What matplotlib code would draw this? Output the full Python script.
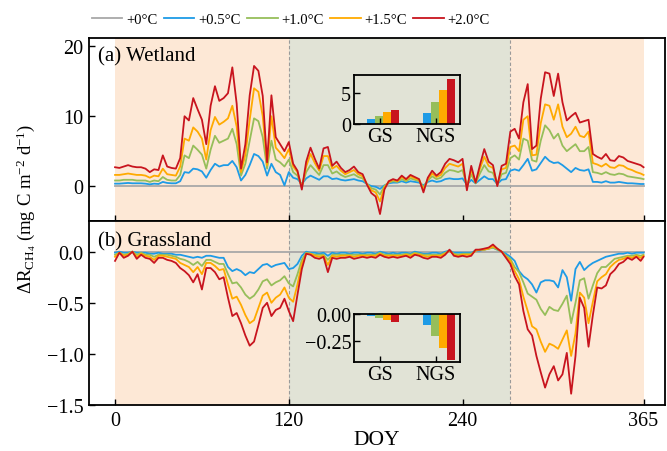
import numpy as np
import matplotlib
matplotlib.use('Agg')
import matplotlib.pyplot as plt

plt.rcParams['font.family'] = ['Liberation Serif', 'DejaVu Serif']
plt.rcParams['mathtext.fontset'] = 'custom'
plt.rcParams['mathtext.rm'] = 'Liberation Serif'
plt.rcParams['mathtext.it'] = 'Liberation Serif:italic'
plt.rcParams['mathtext.bf'] = 'Liberation Serif:bold'
plt.rcParams['axes.unicode_minus'] = True

# ---------------- data ----------------
doy = list(range(0, 364, 3)) + [365]

scenarios = ['+0\u00b0C', '+0.5\u00b0C', '+1.0\u00b0C', '+1.5\u00b0C', '+2.0\u00b0C']
colors = ['#A8A8A8', '#1E9BE6', '#96BE5A', '#FFAA00', '#C8141E']

wet_00 = [0.0] * 123
wet_05 = [0.35, 0.35, 0.4, 0.45, 0.4, 0.4, 0.4, 0.35, 0.25, 0.35,
          0.3, 0.6, 0.45, 0.4, 0.4, 0.7, 2.0, 1.9, 2.5, 2.4,
          2.1, 1.2, 2.3, 3.2, 2.8, 3.0, 3.0, 3.6, 2.7, 0.8,
          1.6, 3.0, 4.6, 4.3, 3.5, 1.5, 3.2, 2.0, 1.6, 0.1,
          2.0, 1.2, 1.0, 0.3, 1.1, 1.5, 1.2, 0.9, 1.4, 1.4,
          1.0, 1.1, 0.9, 0.8, 0.9, 1.0, 0.8, 0.7, 0.3, 0.0,
          -0.1, -0.4, 0.1, 0.4, 0.5, 0.5, 0.7, 0.5, 0.7, 0.6,
          0.5, 0.1, 0.6, 0.8, 0.6, 0.7, 1.0, 1.1, 1.0, 1.0,
          1.1, 0.2, 0.9, 0.4, 0.9, 1.4, 1.0, 1.0, 0.3, 0.9,
          1.0, 2.2, 2.4, 2.2, 3.0, 3.9, 2.2, 2.4, 3.3, 4.2,
          3.6, 3.3, 3.4, 3.0, 2.5, 2.0, 2.6, 2.3, 2.2, 2.4,
          0.6, 0.6, 0.5, 0.7, 0.5, 0.5, 0.6, 0.5, 0.4, 0.4,
          0.35, 0.3, 0.3]
wet_10 = [0.8, 0.8, 0.9, 0.9, 0.9, 0.8, 0.8, 0.8, 0.6, 0.8,
          0.7, 1.3, 0.9, 0.8, 0.8, 1.6, 4.4, 4.0, 5.8, 5.2,
          4.5, 2.5, 5.2, 7.2, 6.2, 6.5, 6.8, 8.2, 6.0, 1.5,
          3.2, 6.5, 9.7, 9.3, 7.0, 2.5, 6.5, 3.8, 3.4, 2.8,
          3.8, 2.0, 1.5, 0.0, 2.0, 3.0, 2.3, 1.6, 3.0, 3.0,
          1.8, 2.1, 1.6, 1.3, 1.5, 1.7, 1.3, 1.1, 0.3, -0.3,
          -0.5, -1.2, 0.0, 0.5, 0.7, 0.6, 1.0, 0.7, 1.1, 0.9,
          0.7, -0.2, 0.8, 1.4, 1.0, 1.2, 1.9, 2.3, 2.2, 2.0,
          2.3, 0.0, 1.7, 0.4, 1.8, 3.0, 2.1, 1.9, 0.2, 1.7,
          1.9, 4.0, 4.4, 3.8, 6.8, 6.5, 3.7, 3.5, 6.5, 8.7,
          8.0, 6.8, 7.5, 5.8, 5.0, 5.5, 6.0, 5.0, 5.0, 5.6,
          2.0, 1.9, 1.7, 2.0, 1.7, 1.6, 1.8, 1.7, 1.4, 1.3,
          1.2, 1.1, 1.0]
wet_15 = [1.6, 1.6, 1.7, 1.8, 1.7, 1.6, 1.6, 1.5, 1.2, 1.5,
          1.4, 2.5, 1.7, 1.6, 1.5, 2.8, 6.8, 6.5, 8.4, 7.8,
          6.8, 3.8, 8.0, 9.9, 8.8, 9.2, 9.7, 11.5, 8.5, 2.0,
          4.5, 9.5, 14.0, 13.5, 10.0, 3.0, 10.0, 5.5, 4.8, 4.0,
          5.3, 2.8, 2.0, -0.2, 2.8, 4.6, 3.3, 2.2, 4.3, 4.3,
          2.5, 2.9, 2.2, 1.7, 2.0, 2.3, 1.7, 1.4, 0.3, -0.6,
          -0.9, -2.2, -0.2, 0.6, 0.9, 0.7, 1.3, 0.9, 1.4, 1.1,
          0.9, -0.5, 1.0, 1.8, 1.3, 1.6, 2.6, 3.2, 3.0, 2.8,
          3.2, -0.3, 2.4, 0.5, 2.5, 4.2, 2.9, 2.6, 0.2, 2.4,
          2.6, 5.6, 5.8, 5.0, 9.5, 10.0, 4.4, 4.5, 9.0, 11.7,
          11.5, 9.5, 11.7, 8.5, 7.0, 7.5, 8.5, 7.2, 7.0, 7.8,
          3.3, 3.1, 2.8, 3.2, 2.7, 2.6, 3.0, 2.9, 2.5, 2.3,
          2.0, 1.8, 1.6]
wet_20 = [2.7, 2.6, 2.8, 3.0, 2.8, 2.7, 2.7, 2.5, 2.0, 2.4,
          2.3, 4.4, 2.8, 2.6, 2.5, 4.0, 10.0, 9.4, 12.6, 11.0,
          9.5, 6.0, 11.5, 14.3, 12.2, 12.6, 13.3, 17.0, 11.8, 2.5,
          6.0, 13.0, 17.2, 16.5, 12.9, 3.4, 13.0, 7.0, 6.0, 5.0,
          6.3, 3.2, 2.2, -0.5, 3.5, 5.5, 3.9, 2.5, 5.4, 5.6,
          2.9, 3.5, 2.6, 2.0, 2.3, 2.8, 2.0, 1.7, 0.2, -1.0,
          -1.5, -4.0, -0.5, 0.7, 1.0, 0.8, 1.5, 1.0, 1.6, 1.3,
          1.0, -0.9, 1.2, 2.2, 1.5, 2.0, 3.2, 3.9, 3.7, 3.4,
          3.9, -0.6, 2.9, 0.5, 3.0, 5.3, 3.5, 3.0, 0.0, 2.9,
          3.2, 7.8, 8.2, 6.8, 12.0, 14.6, 5.3, 5.8, 12.5, 16.3,
          16.1, 12.9, 16.1, 12.0, 9.4, 10.0, 10.5, 9.1, 9.3, 9.5,
          4.6, 4.2, 3.9, 4.6, 3.7, 3.6, 4.3, 4.1, 3.6, 3.4,
          3.2, 3.0, 2.7]

gra_00 = [0.0] * 123
gra_05 = [-0.01, 0.0, -0.01, -0.01, 0.0, -0.01, -0.01, -0.01, -0.02, -0.02,
          -0.01, -0.02, -0.02, -0.02, -0.03, -0.03, -0.04, -0.05, -0.06, -0.05,
          -0.06, -0.04, -0.04, -0.05, -0.06, -0.06, -0.15, -0.19, -0.17, -0.19,
          -0.23, -0.20, -0.21, -0.17, -0.13, -0.12, -0.15, -0.13, -0.12, -0.11,
          -0.17, -0.16, -0.12, -0.04, 0.0, -0.01, -0.01, -0.02, -0.01, -0.04,
          -0.01, -0.02, -0.01, -0.01, -0.02, -0.01, -0.01, -0.02, -0.01, -0.01,
          -0.02, 0.0, -0.01, -0.02, -0.01, -0.02, -0.01, -0.01, -0.02, 0.0,
          -0.01, -0.02, -0.02, -0.01, -0.01, -0.02, 0.0, 0.01, -0.01, -0.01,
          -0.01, -0.01, -0.01, 0.01, 0.01, 0.02, 0.03, 0.04, 0.02, 0.0,
          -0.02, -0.05, -0.09, -0.19, -0.24, -0.27, -0.32, -0.40, -0.30, -0.28,
          -0.28, -0.29, -0.35, -0.18, -0.25, -0.48, -0.17, -0.10, -0.18, -0.14,
          -0.11, -0.09, -0.07, -0.05, -0.04, -0.03, -0.02, -0.02, -0.01, -0.02,
          -0.01, -0.01, -0.01]
gra_10 = [-0.03, -0.01, -0.03, -0.02, 0.0, -0.03, -0.01, -0.03, -0.03, -0.05,
          -0.03, -0.03, -0.03, -0.04, -0.05, -0.07, -0.08, -0.10, -0.13, -0.10,
          -0.14, -0.08, -0.08, -0.10, -0.12, -0.12, -0.22, -0.31, -0.30, -0.35,
          -0.42, -0.46, -0.43, -0.37, -0.29, -0.27, -0.33, -0.30, -0.28, -0.24,
          -0.31, -0.34, -0.22, -0.08, -0.01, -0.02, -0.03, -0.03, -0.03, -0.08,
          -0.03, -0.03, -0.03, -0.03, -0.03, -0.03, -0.03, -0.03, -0.03, -0.03,
          -0.03, -0.01, -0.03, -0.03, -0.03, -0.03, -0.03, -0.02, -0.03, -0.01,
          -0.02, -0.03, -0.03, -0.03, -0.03, -0.03, -0.01, 0.01, -0.02, -0.03,
          -0.02, -0.02, -0.02, 0.01, 0.02, 0.02, 0.03, 0.04, 0.02, 0.0,
          -0.04, -0.07, -0.15, -0.20, -0.30, -0.41, -0.44, -0.47, -0.56, -0.62,
          -0.54, -0.57, -0.58, -0.51, -0.43, -0.70, -0.50, -0.28, -0.26, -0.46,
          -0.33, -0.21, -0.15, -0.15, -0.11, -0.07, -0.06, -0.05, -0.04, -0.04,
          -0.03, -0.04, -0.03]
gra_15 = [-0.05, -0.01, -0.04, -0.03, 0.0, -0.05, -0.02, -0.04, -0.05, -0.08,
          -0.04, -0.04, -0.05, -0.06, -0.07, -0.11, -0.13, -0.15, -0.20, -0.15,
          -0.22, -0.11, -0.11, -0.14, -0.18, -0.17, -0.32, -0.46, -0.44, -0.52,
          -0.62, -0.70, -0.67, -0.55, -0.43, -0.40, -0.50, -0.45, -0.42, -0.35,
          -0.45, -0.49, -0.32, -0.12, -0.02, -0.02, -0.04, -0.05, -0.04, -0.13,
          -0.04, -0.05, -0.04, -0.04, -0.04, -0.05, -0.04, -0.04, -0.04, -0.04,
          -0.04, -0.02, -0.04, -0.04, -0.04, -0.04, -0.04, -0.03, -0.04, -0.02,
          -0.03, -0.04, -0.05, -0.04, -0.04, -0.04, -0.02, 0.01, -0.03, -0.04,
          -0.03, -0.03, -0.03, 0.01, 0.02, 0.02, 0.03, 0.05, 0.03, 0.0,
          -0.05, -0.09, -0.19, -0.27, -0.44, -0.58, -0.73, -0.76, -0.88, -0.98,
          -0.90, -0.92, -0.95, -0.86, -0.77, -1.02, -0.80, -0.40, -0.45, -0.70,
          -0.49, -0.29, -0.25, -0.22, -0.15, -0.11, -0.08, -0.07, -0.05, -0.06,
          -0.04, -0.06, -0.04]
gra_20 = [-0.09, -0.01, -0.06, -0.04, 0.0, -0.07, -0.03, -0.06, -0.07, -0.11,
          -0.06, -0.06, -0.08, -0.09, -0.11, -0.16, -0.19, -0.23, -0.30, -0.22,
          -0.37, -0.16, -0.16, -0.20, -0.27, -0.25, -0.45, -0.63, -0.60, -0.70,
          -0.82, -0.92, -0.88, -0.72, -0.55, -0.50, -0.63, -0.57, -0.55, -0.46,
          -0.58, -0.68, -0.42, -0.17, -0.02, -0.03, -0.06, -0.07, -0.05, -0.20,
          -0.06, -0.07, -0.06, -0.06, -0.05, -0.07, -0.06, -0.05, -0.06, -0.05,
          -0.06, -0.03, -0.05, -0.06, -0.05, -0.06, -0.05, -0.04, -0.06, -0.03,
          -0.04, -0.06, -0.07, -0.05, -0.05, -0.06, -0.03, 0.02, -0.04, -0.05,
          -0.04, -0.05, -0.04, 0.02, 0.02, 0.03, 0.04, 0.07, 0.03, 0.0,
          -0.06, -0.12, -0.24, -0.32, -0.58, -0.76, -0.82, -1.02, -1.18, -1.33,
          -1.20, -1.12, -1.26, -1.20, -0.99, -1.39, -1.02, -0.45, -0.55, -0.93,
          -0.62, -0.35, -0.36, -0.33, -0.22, -0.18, -0.12, -0.10, -0.06, -0.08,
          -0.05, -0.09, -0.05]

inset_groups = ['GS', 'NGS']
wet_gs = [0.75, 1.35, 1.9, 2.3]
wet_ngs = [1.75, 3.6, 5.5, 7.4]
gra_gs = [-0.02, -0.04, -0.055, -0.075]
gra_ngs = [-0.10, -0.21, -0.32, -0.43]

xticks = [0, 120, 240, 365]
gs_start, gs_end = 120, 273

# ---------------- figure ----------------
fig = plt.figure(figsize=(6.67, 4.52), dpi=100)
ax1 = fig.add_axes([0.1334, 0.5088, 0.864, 0.4049])
ax2 = fig.add_axes([0.1334, 0.1018, 0.864, 0.4070])

peach = '#FDE8D6'
sage = '#E1E3D6'
fs = 14.5

wet = [wet_00, wet_05, wet_10, wet_15, wet_20]
gra = [gra_00, gra_05, gra_10, gra_15, gra_20]

handles = []
for ax, series in [(ax1, wet), (ax2, gra)]:
    ax.axvspan(0, gs_start, color=peach, lw=0, zorder=0)
    ax.axvspan(gs_start, gs_end, color=sage, lw=0, zorder=0)
    ax.axvspan(gs_end, 365, color=peach, lw=0, zorder=0)
    for xv in (gs_start, gs_end):
        ax.axvline(xv, color='#9A9A9A', lw=0.8, ls=(0, (3, 2)), zorder=1)
    hs = []
    for s, c, lab in zip(series, colors, scenarios):
        h, = ax.plot(doy, s, color=c, lw=1.3, label=lab, zorder=2)
        hs.append(h)
    handles = hs
    ax.set_xlim(-18, 380)
    ax.set_xticks(xticks)
    ax.tick_params(direction='in', length=4, width=1.0, labelsize=fs, pad=4)
    for sp in ax.spines.values():
        sp.set_linewidth(1.3)

ax1.set_ylim(-5, 21.2)
ax1.set_yticks([0, 10, 20])
ax1.tick_params(labelbottom=False)
ax2.set_ylim(-1.5, 0.3)
ax2.set_yticks([0.0, -0.5, -1.0, -1.5])
ax2.set_yticklabels(['0.0', '\u22120.5', '\u22121.0', '\u22121.5'])
ax2.set_xlabel('DOY', fontsize=15.5, labelpad=0)

ax1.text(0.016, 0.90, '(a) Wetland', transform=ax1.transAxes, fontsize=15,
         va='center', ha='left')
ax2.text(0.016, 0.89, '(b) Grassland', transform=ax2.transAxes, fontsize=15,
         va='center', ha='left')

fig.text(0.040, 1 - 209 / 452,
         '\u0394R$_{\\mathrm{CH_4}}$ (mg C m$^{-2}$ d$^{-1}$)',
         rotation=90, va='center', ha='center', fontsize=13.5)

fig.legend(handles, scenarios, loc='center', bbox_to_anchor=(0.436, 0.954),
           ncol=5, frameon=False, fontsize=10.5, handlelength=2.1,
           handletextpad=0.25, columnspacing=0.45, borderaxespad=0)

# ---------------- insets ----------------
w = 0.143
offs = [-1.1, -0.1, 0.9, 1.9]
bar_colors = colors[1:]

def make_inset(rect, gs_vals, ngs_vals, ylim, yticks, yticklabels):
    ia = fig.add_axes(rect, zorder=5)
    ia.set_facecolor('none')
    for k in range(4):
        ia.bar([0 + offs[k] * w, 1 + offs[k] * w], [gs_vals[k], ngs_vals[k]],
               width=w, color=bar_colors[k], lw=0)
    ia.set_xlim(-0.46, 1.43)
    ia.set_ylim(*ylim)
    ia.set_xticks([0, 1])
    ia.set_xticklabels(inset_groups)
    ia.set_yticks(yticks)
    ia.set_yticklabels(yticklabels)
    ia.tick_params(direction='in', length=4, width=1.0, labelsize=fs, pad=2)
    for sp in ia.spines.values():
        sp.set_linewidth(1.3)
    return ia

make_inset([0.5307, 0.7235, 0.1589, 0.1084], wet_gs, wet_ngs, (0, 8),
           [0, 5], ['0', '5'])
make_inset([0.5307, 0.1969, 0.1589, 0.1062], gra_gs, gra_ngs, (-0.45, 0.0),
           [0.0, -0.25], ['0.00', '\u22120.25'])

fig.savefig('out.png', dpi=100)
